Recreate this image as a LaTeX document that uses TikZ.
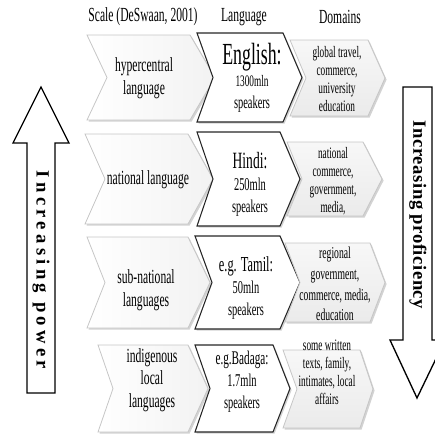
\documentclass[tikz,border=0pt]{standalone}
\usepackage{fontspec}
\setmainfont[FakeStretch=0.58]{Liberation Serif}
\newfontfamily\powerfont[LetterSpace=23]{Liberation Serif}
\newfontfamily\proffont[LetterSpace=3]{Liberation Serif}
\usetikzlibrary{shadows}

% chevron: style, left x, right x, top y, bottom y, notch depth, tip depth
\newcommand{\chevron}[7]{%
  \draw[#1] (#2,#4) -- (#3,#4) -- ({#3+#7},{(#4+#5)/2}) -- (#3,#5) -- (#2,#5) -- ({#2+#6},{(#4+#5)/2}) -- cycle;}

\begin{document}
\begin{tikzpicture}[x=0.75pt,y=0.75pt,yscale=-1,xscale=1,
  softshadow/.style={drop shadow={shadow xshift=1.2pt,shadow yshift=-1.2pt,opacity=0.35,fill=gray}},
  scalebox/.style={draw=gray!45,line width=0.6pt,left color=white,right color=gray!10,softshadow},
  langbox/.style={draw=black!85,line width=0.8pt,fill=white,softshadow},
  domainbox/.style={draw=gray!45,line width=0.6pt,top color=gray!6,bottom color=gray!16,softshadow},
  bigarrow/.style={draw=black,line width=1pt,fill=white},
  headtxt/.style={font=\fontsize{15}{17}\selectfont},
  scaletxt/.style={align=center,font=\fontsize{15}{17}\selectfont},
  langtxt/.style={align=center,font=\fontsize{13.5}{16.5}\selectfont},
  domaintxt/.style={align=center,font=\fontsize{12}{13.5}\selectfont},
  every node/.style={inner sep=0.75pt}]
\useasboundingbox (0,0) rectangle (435,436);
\clip (0,0) rectangle (435,436);

%Shape: Up Arrow
\draw[bigarrow] (27,393) -- (27,143) -- (13,143) -- (41,87) -- (69,143) -- (55,143) -- (55,393) -- cycle;
%Shape: Down Arrow
\draw[bigarrow] (403,87) -- (432,87) -- (432,340) -- (445,340) -- (417,398) -- (390,340) -- (403,340) -- cycle;

%Shape: Chevrons, row 1
\chevron{scalebox}{87}{190}{35}{120}{20}{25}
\chevron{langbox}{197}{283}{33}{122}{16}{19}
\chevron{domainbox}{290}{368}{40}{116}{16}{17}
%Shape: Chevrons, row 2
\chevron{scalebox}{85}{188}{134}{224}{20}{25}
\chevron{langbox}{197}{280}{132}{226}{16}{20}
\chevron{domainbox}{287}{363}{142}{216}{15}{19}
%Shape: Chevrons, row 3
\chevron{scalebox}{87}{188}{237}{328}{18}{22}
\chevron{langbox}{195}{280}{236}{329}{17}{20}
\chevron{domainbox}{285}{370}{243}{322}{15}{15}
%Shape: Chevrons, row 4
\chevron{scalebox}{98}{188}{345}{432}{15}{20}
\chevron{langbox}{195}{273}{345}{432}{15}{17}
\chevron{domainbox}{283}{360}{350}{428}{14}{13}

% Text Node
\node[headtxt] (scalehead) at (143,17) {Scale (DeSwaan, 2001)};
% Text Node
\node[headtxt] (langhead) at (244,17) {Language};
% Text Node
\node[headtxt] (domhead) at (340,17) {Domains};

% Text Node
\node[scaletxt] (hyper) at (144,78) {hypercentral\\language};
% Text Node
\node[scaletxt] (national) at (148,180) {national language};
% Text Node
\node[scaletxt] (subnat) at (146,290) {sub-national\\languages};
% Text Node
\node[scaletxt] (indig) at (152,380) {indigenous\\local\\languages};

% Text Node
\node[langtxt] (english) at (252,78) {{\fontsize{23}{24}\selectfont English:}\\{\fontsize{12}{15}\selectfont 1300mln}\\speakers};
% Text Node
\node[langtxt] (hindi) at (250,184) {{\fontsize{17.5}{19}\selectfont Hindi:}\\250mln\\speakers};
% Text Node
\node[langtxt] (tamil) at (246,288) {{\fontsize{16}{18}\selectfont e.g. Tamil:}\\50mln\\speakers};
% Text Node
\node[langtxt] (badaga) at (242,382) {{\fontsize{14.5}{16}\selectfont e.g.Badaga:}\\1.7mln\\speakers};

% Text Node
\node[domaintxt] (globaldom) at (337,79) {global travel,\\commerce,\\university\\education};
% Text Node
\node[domaintxt] (natdom) at (333,181) {national\\commerce,\\government,\\media,};
% Text Node
\node[domaintxt,font=\fontsize{12.5}{15.5}\selectfont] (regdom) at (335,284) {regional\\government,\\commerce, media,\\education};
% Text Node
\node[domaintxt] (localdom) at (327,372) {some written\\texts, family,\\intimates, local\\affairs};

% Text Node
\node[rotate=-90,font=\powerfont\bfseries\fontsize{14}{16}\selectfont] (power) at (41,270) {Increasing power};
% Text Node
\node[rotate=-90,font=\proffont\bfseries\fontsize{14}{16}\selectfont] (proficiency) at (418,215) {Increasing proficiency};

\end{tikzpicture}
\end{document}
